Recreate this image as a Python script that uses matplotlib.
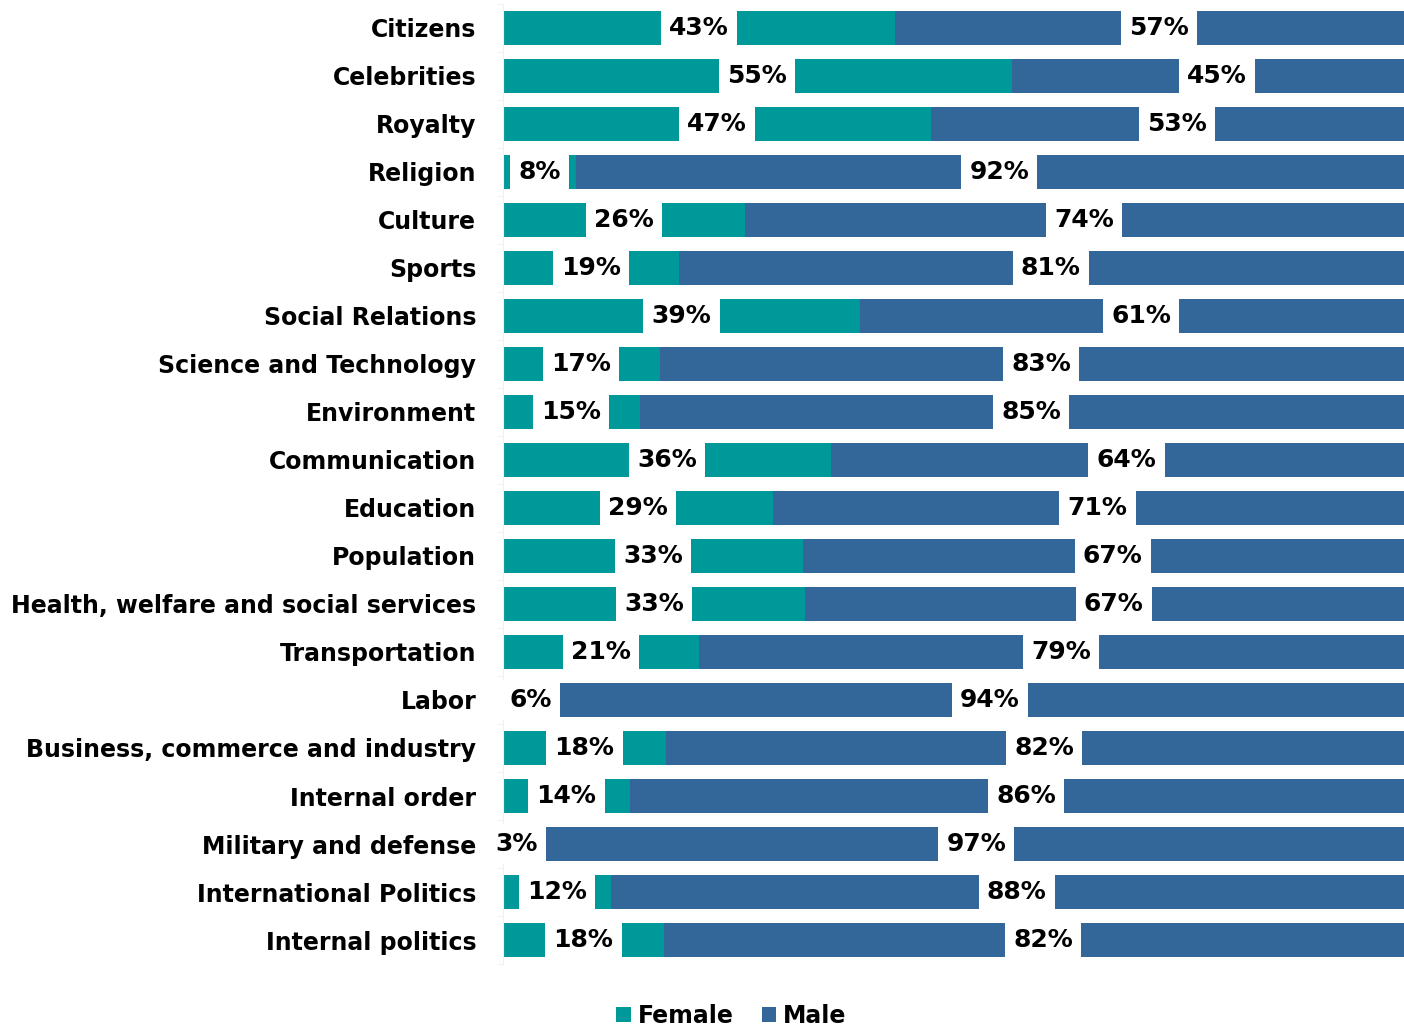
import numpy as np
import matplotlib
matplotlib.use("Agg")
import matplotlib.pyplot as plt

# data (female share, %)
categories = [
    "Citizens", "Celebrities", "Royalty", "Religion", "Culture", "Sports",
    "Social Relations", "Science and Technology", "Environment",
    "Communication", "Education", "Population",
    "Health, welfare and social services", "Transportation", "Labor",
    "Business, commerce and industry", "Internal order",
    "Military and defense", "International Politics", "Internal politics",
]
female = [42.7, 55.4, 46.6, 8.0, 26.4, 19.2, 38.9, 17.1, 14.9, 35.7,
          29.4, 32.7, 32.9, 21.4, 6.0, 17.8, 13.9, 3.0, 11.8, 17.6]
male = [100 - f for f in female]
series_names = ["Female", "Male"]
colors = ["#009999", "#336699"]

plt.rcParams["font.family"] = "DejaVu Sans"
plt.rcParams["font.weight"] = "bold"

fig = plt.figure(figsize=(14.04, 10.27), dpi=100)
# the plot area runs a little past the right edge, as in the reference
ax = fig.add_axes([0.358, 0.0613, 0.655, 0.935])

y = np.arange(len(categories))
bar_h = 0.7
ax.barh(y, female, height=bar_h, color=colors[0], label=series_names[0])
ax.barh(y, male, left=female, height=bar_h, color=colors[1], label=series_names[1])

label_kw = dict(ha="center", va="center", fontsize=18, fontweight="bold",
                bbox=dict(boxstyle="square,pad=0.33", fc="white", ec="none"))
for i in range(len(categories)):
    ax.text(female[i] / 2, y[i], f"{female[i]:.0f}%", **label_kw)
    ax.text(female[i] + male[i] / 2, y[i], f"{male[i]:.0f}%", **label_kw)

ax.set_xlim(0, 100)
ax.set_ylim(len(categories) - 0.5, -0.5)
ax.set_yticks(y)
ax.set_yticklabels(categories, fontsize=17, fontweight="bold")
ax.set_yticks(np.arange(len(categories) + 1) - 0.5, minor=True)
ax.tick_params(axis="y", which="major", length=0, pad=19)
ax.tick_params(axis="y", which="minor", length=4, color="#eeeeee")
ax.set_xticks([])
for side in ["top", "right", "bottom"]:
    ax.spines[side].set_visible(False)
ax.spines["left"].set_color("#f0f0f0")

fig.legend(loc="center", bbox_to_anchor=(0.521, 0.011), ncol=2, frameon=False,
           prop={"size": 17, "weight": "bold"}, handlelength=0.6,
           handleheight=0.6, handletextpad=0.3, columnspacing=1.2)

fig.savefig("out.png", dpi=100)
